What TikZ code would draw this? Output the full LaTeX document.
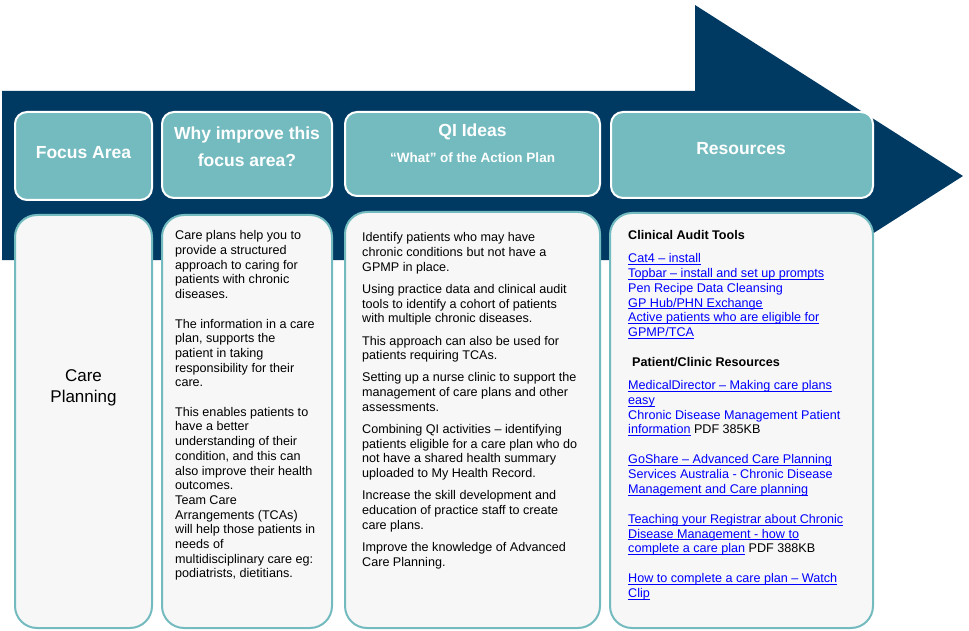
\documentclass[tikz,border=0pt]{standalone}
\usepackage{fontspec}
\setmainfont{Liberation Sans}
\usetikzlibrary{positioning}
\definecolor{arrowNavy}{HTML}{003A63}
\definecolor{headTeal}{HTML}{74BBC0}
\definecolor{boxGray}{HTML}{F7F7F7}
\definecolor{linkBlue}{HTML}{0000FF}
\newsavebox\lnkbox
\newcommand{\lnk}[1]{{\color{linkBlue}\sbox\lnkbox{#1}\rlap{\rule[-2.2pt]{\wd\lnkbox}{0.8pt}}\usebox\lnkbox}}
\newcommand{\blu}[1]{\textcolor{linkBlue}{#1}}

\begin{document}
\begin{tikzpicture}[x=1pt, y=-1pt,
    headbox/.style={draw=white, line width=2pt, fill=headTeal, rounded corners=12pt, inner sep=0pt},
    bodybox/.style={draw=headTeal, line width=2pt, fill=boxGray, rounded corners=22pt, inner sep=0pt},
    headtxt/.style={text=white, inner sep=0pt, align=center, font=\fontsize{17.5}{27}\selectfont\bfseries},
    bodytxt/.style={anchor=north west, inner sep=0pt, align=left, font=\fontsize{12.6}{14.7}\selectfont}]
    \useasboundingbox (0,0) rectangle (969,631);
    % big arrow behind the columns
    \fill[arrowNavy] (2,91) -- (695,91) -- (695,5) -- (963,176) -- (695,347) -- (695,260) -- (2,260) -- cycle;

    \node[headbox, minimum width=137pt, minimum height=88pt] (fhead) at (83.5,156) {};
    \node[headbox, minimum width=170pt, minimum height=86pt] (whead) at (247,155) {};
    \node[headbox, minimum width=255pt, minimum height=84pt] (qhead) at (472.5,154) {};
    \node[headbox, minimum width=262pt, minimum height=86pt] (rhead) at (742,155) {};

    \node[headtxt] (ftitle) at (83.5,153) {Focus Area};
    \node[headtxt] (wtitle) at (247,146.5) {Why improve this\\focus area?};
    \node[headtxt] (qtitle) at (472.5,132) {QI Ideas};
    \node[headtxt, font=\fontsize{13.5}{16}\selectfont\bfseries] (qsub) at (472.5,158) {``What'' of the Action Plan};
    \node[headtxt] (rtitle) at (741,149) {Resources};

    \node[bodybox, minimum width=137pt, minimum height=413pt] (fbody) at (83.5,421.5) {};
    \node[bodybox, minimum width=170pt, minimum height=413pt] (wbody) at (247,421.5) {};
    \node[bodybox, minimum width=255pt, minimum height=416pt] (qbody) at (472.5,420) {};
    \node[bodybox, minimum width=263pt, minimum height=415pt] (rbody) at (741.5,420.5) {};

    \node[align=center, font=\fontsize{17}{21}\selectfont] (ftext) at (83.5,387.5) {Care\\Planning};

    \node[bodytxt] (wtext) at (175,230.5) {Care plans help you to\\provide a structured\\approach to caring for\\patients with chronic\\diseases.\\[14.7pt]
      The information in a care\\plan, supports the\\patient in taking\\responsibility for their\\care.\\[14.7pt]
      This enables patients to\\have a better\\understanding of their\\condition, and this can\\also improve their health\\outcomes.\\
      Team Care\\Arrangements (TCAs)\\will help those patients in\\needs of\\multidisciplinary care eg:\\podiatrists, dietitians.};

    \node[bodytxt] (qtext) at (362,232.5) {Identify patients who may have\\chronic conditions but not have a\\GPMP in place.\\[7.5pt]
      Using practice data and clinical audit\\tools to identify a cohort of patients\\with multiple chronic diseases.\\[7.5pt]
      This approach can also be used for\\patients requiring TCAs.\\[7.5pt]
      Setting up a nurse clinic to support the\\management of care plans and other\\assessments.\\[7.5pt]
      Combining QI activities -- identifying\\patients eligible for a care plan who do\\not have a shared health summary\\uploaded to My Health Record.\\[7.5pt]
      Increase the skill development and\\education of practice staff to create\\care plans.\\[7.5pt]
      Improve the knowledge of Advanced\\Care Planning.};

    \node[bodytxt] (rtext) at (628,230.5) {\textbf{Clinical Audit Tools}\\[8.4pt]
      \lnk{Cat4 -- install}\\
      \lnk{Topbar -- install and set up prompts}\\
      \blu{Pen Recipe Data Cleansing}\\
      \lnk{GP Hub/PHN Exchange}\\
      \lnk{Active patients who are eligible for}\\
      \lnk{GPMP/TCA}\\[15.4pt]
      \hspace{4pt}\textbf{Patient/Clinic Resources}\\[8.4pt]
      \lnk{MedicalDirector -- Making care plans}\\
      \lnk{easy}\\
      \blu{Chronic Disease Management Patient}\\
      \lnk{information} PDF 385KB\\[15.4pt]
      \lnk{GoShare -- Advanced Care Planning}\\
      \blu{Services Australia - Chronic Disease}\\
      \lnk{Management and Care planning}\\[15.4pt]
      \lnk{Teaching your Registrar about Chronic}\\
      \lnk{Disease Management - how to}\\
      \lnk{complete a care plan} PDF 388KB\\[15.4pt]
      \lnk{How to complete a care plan -- Watch}\\
      \lnk{Clip}};
\end{tikzpicture}
\end{document}
